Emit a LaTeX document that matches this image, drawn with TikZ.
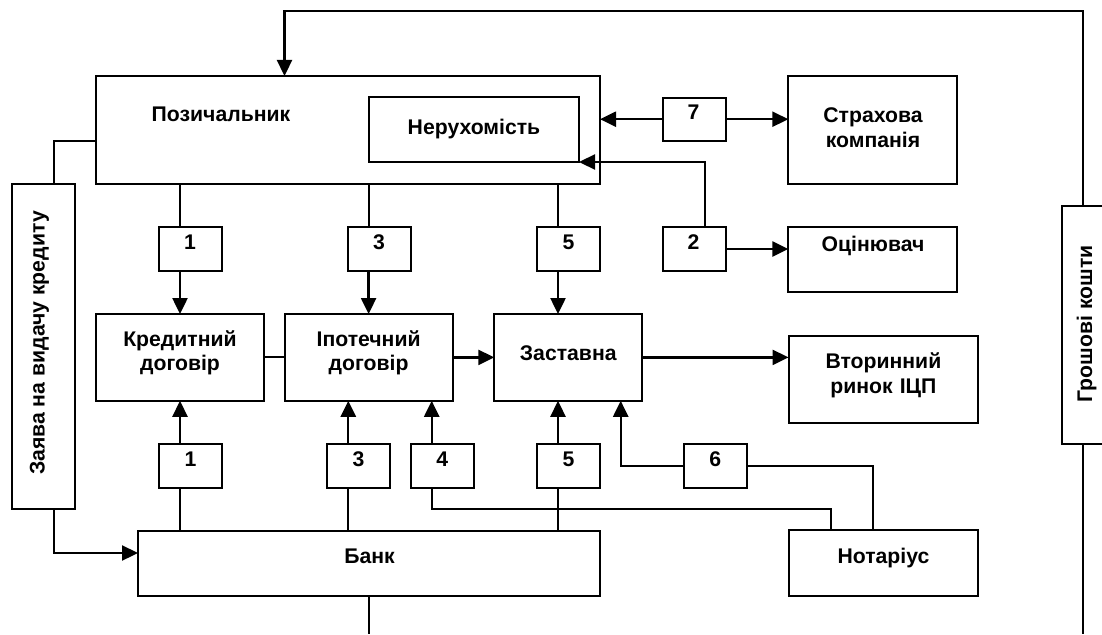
\documentclass[tikz,border=0pt]{standalone}
\usepackage{fontspec}
\setmainfont{Liberation Sans}
\usetikzlibrary{arrows.meta}
\begin{document}
\begin{tikzpicture}[x=1pt,y=-1pt,
  box/.style={draw,line width=2pt,inner sep=0pt,outer sep=0pt},
  numbox/.style={box,minimum width=63pt,minimum height=44pt},
  txt/.style={inner sep=0pt,anchor=base,font=\fontsize{21.2}{24.7}\selectfont\bfseries},
  txttwo/.style={txt,text width=200pt,align=center},
  ln/.style={line width=1.9pt},
  arr/.style={line width=2.3pt,-{Triangle[length=16pt,width=15pt]}}]
\useasboundingbox (0,0) rectangle (1102,634);

% boxes
\node[box,minimum width=504pt,minimum height=108pt] (pozych) at (348,130) {};
\node[box,minimum width=210pt,minimum height=65pt] (nerukh) at (474,129.5) {};
\node[box,minimum width=63pt,minimum height=43pt] (b7) at (694.2,119.2) {};
\node[box,minimum width=168.5pt,minimum height=108pt] (strakh) at (872.6,130) {};
\node[numbox] (b2) at (694.2,249) {};
\node[box,minimum width=168.5pt,minimum height=65pt] (ocin) at (872.6,259.5) {};
\node[box,minimum width=42pt,minimum height=238.3pt] (groshi) at (1082.7,324.85) {};
\node[box,minimum width=63pt,minimum height=325pt] (zayava) at (43.5,346.5) {};
\node[numbox] (b1t) at (190.5,249) {};
\node[numbox] (b3t) at (379.2,249) {};
\node[numbox] (b5t) at (568.5,249) {};
\node[box,minimum width=168pt,minimum height=86.7pt] (kred) at (180,357.4) {};
\node[box,minimum width=168.2pt,minimum height=86.7pt] (ipot) at (368.6,357.4) {};
\node[box,minimum width=148pt,minimum height=86.7pt] (zastav) at (568.3,357.4) {};
\node[box,minimum width=189.5pt,minimum height=87pt] (vtor) at (883.3,379.2) {};
\node[numbox] (b1b) at (190.5,465.8) {};
\node[numbox] (b3b) at (358.3,465.8) {};
\node[numbox] (b4) at (442.3,465.8) {};
\node[numbox] (b5b) at (568.5,465.8) {};
\node[numbox] (b6) at (715.3,465.8) {};
\node[box,minimum width=462pt,minimum height=65pt] (bank) at (369,563.2) {};
\node[box,minimum width=189.5pt,minimum height=65.7pt] (notar) at (883.3,562.9) {};

% texts
\node[txt] (t-pozych) at (221,121.7) {Позичальник};
\node[txt] (t-nerukh) at (474,134) {Нерухомість};
\node[txt] (t-b7) at (693.5,119.3) {7};
\node[txttwo] (t-strakh) at (873,122.7) {Страхова\\компанія};
\node[txt] (t-ocin) at (873,251.7) {Оцінювач};
\node[txt] (t-b2) at (693.5,249.3) {2};
\node[txt] (t-b1t) at (190,249.3) {1};
\node[txt] (t-b3t) at (379,249.3) {3};
\node[txt] (t-b5t) at (568.5,249.3) {5};
\node[txttwo] (t-kred) at (180,346) {Кредитний\\договір};
\node[txttwo] (t-ipot) at (368.6,346) {Іпотечний\\договір};
\node[txt] (t-zastav) at (568.3,360) {Заставна};
\node[txttwo] (t-vtor) at (883.4,368.3) {Вторинний\\ринок ІЦП};
\node[txt] (t-b1b) at (190.5,466) {1};
\node[txt] (t-b3b) at (358.5,466) {3};
\node[txt] (t-b4) at (442.3,466) {4};
\node[txt] (t-b5b) at (568.5,466) {5};
\node[txt] (t-b6) at (715.3,466) {6};
\node[txt] (t-bank) at (369.5,563.3) {Банк};
\node[txt] (t-notar) at (883.4,563.3) {Нотаріус};
\node[txt,rotate=90] (t-zayava) at (44.5,343) {Заява на видачу кредиту};
\node[txt,rotate=90] (t-groshi) at (1092,324) {Грошові кошти};

% helper coordinates
\coordinate (c5) at (558,0);
\coordinate (c2) at (705,0);
\coordinate (c3b) at (348.3,0);
\coordinate (c4) at (431.7,0);
\coordinate (c4y) at (0,508.7);
\coordinate (cn1) at (830.7,0);
\coordinate (c6) at (620.7,0);
\coordinate (cn2) at (872.7,0);
\coordinate (cz) at (53.7,0);
\coordinate (cp) at (0,141);
\coordinate (cb) at (0,553);
\coordinate (ctl) at (284.5,11);
\coordinate (gend) at (1082.7,634);
\coordinate (bend) at (369,634);

% top row connectors
\draw[ln] (pozych.south -| kred.north) -- (b1t.north -| kred.north);
\draw[arr] (b1t.south -| kred.north) -- (kred.north);
\draw[ln] (pozych.south -| ipot.north) -- (b3t.north -| ipot.north);
\draw[arr] (b3t.south -| ipot.north) -- (ipot.north);
\draw[ln] (pozych.south -| c5) -- (b5t.north -| c5);
\draw[arr] (b5t.south -| c5) -- (zastav.north -| c5);
\draw[arr] (b7.west) -- (pozych.east |- b7.west);
\draw[arr] (b7.east) -- (strakh.west |- b7.east);
\draw[arr] (b2.north -| c2) |- (nerukh.south east);
\draw[arr] (b2.east) -- (ocin.west |- b2.east);

% middle row
\draw[ln] (kred.east) -- (ipot.west);
\draw[arr] (ipot.east) -- (zastav.west);
\draw[arr] (zastav.east) -- (vtor.west |- zastav.east);

% bottom row connectors
\draw[ln] (bank.north -| kred.south) -- (b1b.south -| kred.south);
\draw[arr] (b1b.north -| kred.south) -- (kred.south);
\draw[ln] (bank.north -| c3b) -- (b3b.south -| c3b);
\draw[arr] (b3b.north -| c3b) -- (ipot.south -| c3b);
\draw[arr] (b4.north -| c4) -- (ipot.south -| c4);
\draw[ln] (b4.south -| c4) -- (c4 |- c4y) -- (cn1 |- c4y) -- (notar.north -| cn1);
\draw[ln] (bank.north -| c5) -- (b5b.south -| c5);
\draw[arr] (b5b.north -| c5) -- (zastav.south -| c5);
\draw[arr] (b6.west) -| (zastav.south -| c6);
\draw[ln] (b6.east) -| (notar.north -| cn2);

% application
\draw[ln] (pozych.west |- cp) -| (zayava.north -| cz);
\draw[arr] (zayava.south -| cz) |- (bank.west |- cb);

% money loop
\draw[arr] (groshi.north) |- (ctl) -- (ctl |- pozych.north);
\draw[ln] (groshi.south) -- (gend);
\draw[ln] (bank.south) -- (bend);
\end{tikzpicture}
\end{document}
